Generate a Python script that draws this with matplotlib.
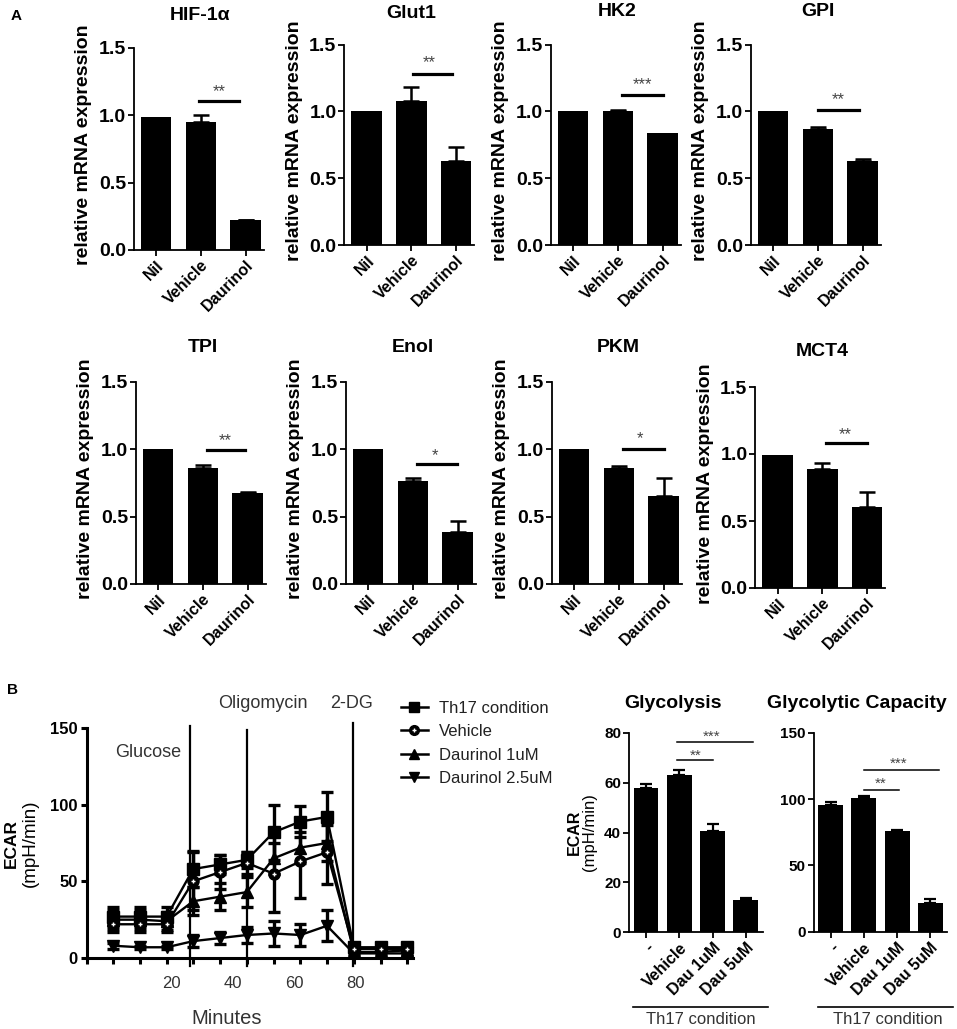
import numpy as np
import matplotlib
matplotlib.use('Agg')
import matplotlib.pyplot as plt
from matplotlib.lines import Line2D
from matplotlib.legend_handler import HandlerTuple

plt.rcParams['font.family'] = ['Liberation Sans', 'DejaVu Sans']

# ---------------- data: panel A ----------------
genes = ["HIF-1α", "Glut1", "HK2", "GPI", "TPI", "Enol", "PKM", "MCT4"]
groups_a = ["Nil", "Vehicle", "Daurinol"]
hif1a = [0.99, 0.95, 0.22]
glut1 = [1.00, 1.08, 0.63]
hk2 = [1.00, 1.00, 0.835]
gpi = [1.00, 0.865, 0.63]
tpi = [1.00, 0.865, 0.675]
enol = [1.00, 0.765, 0.385]
pkm = [1.00, 0.865, 0.655]
mct4 = [0.99, 0.89, 0.605]
hif1a_err = [0.0, 0.055, 0.005]
glut1_err = [0.0, 0.10, 0.10]
hk2_err = [0.0, 0.01, 0.0]
gpi_err = [0.0, 0.015, 0.01]
tpi_err = [0.0, 0.015, 0.008]
enol_err = [0.0, 0.025, 0.08]
pkm_err = [0.0, 0.012, 0.135]
mct4_err = [0.0, 0.04, 0.11]
stars_a = ["**", "**", "***", "**", "**", "*", "*", "**"]

values_a = [hif1a, glut1, hk2, gpi, tpi, enol, pkm, mct4]
errors_a = [hif1a_err, glut1_err, hk2_err, gpi_err, tpi_err, enol_err, pkm_err, mct4_err]

# ---------------- data: panel B line chart ----------------
minutes = [1.2, 9.9, 18.6, 27.2, 35.9, 44.6, 53.3, 62.0, 70.6, 79.3, 88.0, 96.7]
th17 = [27, 27, 27, 58, 61, 64, 82, 89, 92, 7, 7, 7]
th17_err = [6, 6, 6, 12, 6, 5, 18, 10, 16, 3, 2, 2]
vehicle = [22, 22, 22, 50, 56, 62, 55, 63, 69, 6, 6, 6]
vehicle_err = [5, 5, 5, 19, 11, 7, 25, 24, 21, 2, 2, 2]
dau1 = [25, 25, 24, 37, 40, 43, 65, 72, 75, 4, 4, 5]
dau1_err = [6, 6, 6, 9, 9, 10, 10, 10, 12, 2, 2, 2]
dau25 = [8, 7, 7, 11, 13, 15, 16, 15, 21, 3, 3, 3]
dau25_err = [2, 1, 1, 4, 4, 5, 8, 7, 10, 2, 2, 2]
series_names = ["Th17 condition", "Vehicle", "Daurinol 1uM", "Daurinol 2.5uM"]
injections = ["Glucose", "Oligomycin", "2-DG"]
injection_times = [26.2, 44.6, 79.0]

# ---------------- data: panel B bars ----------------
bar_groups = ["-", "Vehicle", "Dau 1uM", "Dau 5uM"]
glycolysis = [58.0, 63.3, 40.8, 12.7]
glycolysis_err = [1.5, 2.0, 2.6, 0.8]
capacity = [95.5, 101.0, 76.0, 21.6]
capacity_err = [2.5, 1.5, 0.8, 3.0]

# ---------------- figure ----------------
W, H = 957, 1029
fig = plt.figure(figsize=(W / 100, H / 100), dpi=100)


def fx(px):
    return px / W


def fy(py):
    return 1 - py / H


def axbox(l, t, r, b):
    return fig.add_axes([l / W, 1 - b / H, (r - l) / W, (b - t) / H])


DARK = '#333333'

# ---------------- panel A ----------------
nil_centers = [156, 366.5, 573, 773, 158, 368, 574, 777.5]
tops = [48, 44.5, 44.5, 44.5, 382, 382, 382, 387]
bottoms = [250, 245, 245, 245, 584, 584, 584, 588]
title_y = [15, 14, 12, 12, 347, 347, 347, 352]
sig_lines = [(0.97, 1.85, 1.11), (1.03, 1.9, 1.28), (1.1, 2.0, 1.125), (1.0, 1.92, 1.01),
             (1.1, 1.95, 0.995), (1.1, 1.99, 0.89), (1.1, 2.0, 1.0), (1.09, 1.99, 1.08)]
star_pos = [(1.41, 1.218), (1.41, 1.40), (1.54, 1.24), (1.46, 1.125),
            (1.5, 1.106), (1.5, 0.995), (1.48, 1.12), (1.51, 1.18)]
s = 44.8
for i in range(8):
    c0 = nil_centers[i]
    l, r = c0 - 0.5 * s, c0 + 2.4 * s
    ax = axbox(l, tops[i], r, bottoms[i])
    x = np.arange(len(groups_a))
    vals = np.array(values_a[i])
    errs = np.array(errors_a[i])
    ax.bar(x, vals, width=0.68, color='black', zorder=2)
    m = errs > 0
    ax.errorbar(x[m], vals[m], yerr=[np.zeros(m.sum()), errs[m]], fmt='none', ecolor='black',
                elinewidth=1.8, capsize=6, capthick=1.8, zorder=3, clip_on=False)
    ax.set_xlim(-0.5, 2.4)
    ax.set_ylim(0, 1.5)
    for sp in ['top', 'right']:
        ax.spines[sp].set_visible(False)
    for sp in ['left', 'bottom']:
        ax.spines[sp].set_linewidth(1.3)
    ax.set_yticks([0, 0.5, 1.0, 1.5])
    ax.set_yticklabels(['0.0', '0.5', '1.0', '1.5'], fontsize=14, fontweight='bold')
    ax.set_xticks(x)
    ax.set_xticklabels(groups_a, fontsize=11.5, fontweight='bold', rotation=45,
                       ha='right', rotation_mode='anchor')
    ax.tick_params(axis='both', length=4, width=1.3, pad=1.5)
    x1, x2, yl = sig_lines[i]
    ax.plot([x1, x2], [yl, yl], color='black', lw=2.3, clip_on=False, zorder=4)
    sx, sy = star_pos[i]
    ax.annotate(stars_a[i], xy=(sx, sy), xytext=(0, -7), textcoords='offset points',
                ha='center', va='baseline', fontsize=12, color='#444444', annotation_clip=False)
    fig.text(fx((l + r) / 2 + 2), fy(title_y[i]), genes[i], fontsize=14, fontweight='bold',
             ha='center', va='center')
    fig.text(fx(l - 50), fy((tops[i] + bottoms[i]) / 2 - 4), 'relative mRNA expression',
             rotation=90, fontsize=14, fontweight='bold', ha='center', va='center')

fig.text(fx(16), fy(16), 'A', fontsize=11, fontweight='bold', ha='center', va='center')
fig.text(fx(12), fy(690), 'B', fontsize=11, fontweight='bold', ha='center', va='center')

# ---------------- panel B line chart ----------------
axl = axbox(87, 728, 413, 958)
axl.set_xlim(-7.25, 98.5)
axl.set_ylim(0, 150)
all_vals = [th17, vehicle, dau1, dau25]
all_errs = [th17_err, vehicle_err, dau1_err, dau25_err]
markers = ['s', 'o', '^', 'v']
for vals, errs, mk in zip(all_vals, all_errs, markers):
    axl.errorbar(minutes, vals, yerr=errs, color='black', marker=mk, ms=8, lw=1.7,
                 elinewidth=2.4, capsize=4, capthick=2.4, clip_on=False, zorder=3)
axl.plot(minutes, vehicle, ls='none', marker='+', color='white', ms=3.2, mew=1.0,
         zorder=5, clip_on=False)
tops_v = [151, 149, 153]
for t, tv in zip(injection_times, tops_v):
    axl.plot([t, t], [-5, tv], color='black', lw=1.6, clip_on=False, zorder=2)
axl.text(12.5, 133.7, injections[0], fontsize=13, color=DARK, ha='center', va='center')
axl.text(49.8, 166, injections[1], fontsize=13, color=DARK, ha='center', va='center',
         clip_on=False)
axl.text(78.5, 166, injections[2], fontsize=13, color=DARK, ha='center', va='center',
         clip_on=False)
for sp in ['top', 'right']:
    axl.spines[sp].set_visible(False)
for sp in ['left', 'bottom']:
    axl.spines[sp].set_linewidth(2.2)
axl.set_yticks([0, 50, 100, 150])
axl.set_yticklabels(['0', '50', '100', '150'], fontsize=12, fontweight='bold')
axl.tick_params(axis='y', length=4.5, width=2.2, pad=2)
axl.set_xticks([20, 40, 60, 80])
axl.set_xticklabels(['20', '40', '60', '80'], fontsize=12, color=DARK)
axl.set_xticks([-7.25] + minutes, minor=True)
axl.tick_params(axis='x', which='major', length=0, pad=13)
axl.tick_params(axis='x', which='minor', length=4.5, width=2.2)
fig.text(fx(227), fy(1018), 'Minutes', fontsize=14.5, color=DARK, ha='center', va='center')
fig.text(fx(11), fy(843), 'ECAR', rotation=90, fontsize=12.5, fontweight='bold',
         ha='center', va='center')
fig.text(fx(30), fy(843), '(mpH/min)', rotation=90, fontsize=13.5, ha='center', va='center')

handles = [
    Line2D([], [], color='black', marker='s', ms=7, lw=1.8),
    (Line2D([], [], color='black', marker='o', ms=7, lw=1.8),
     Line2D([], [], ls='none', marker='+', color='white', ms=3, mew=1.0)),
    Line2D([], [], color='black', marker='^', ms=7, lw=1.8),
    Line2D([], [], color='black', marker='v', ms=7, lw=1.8),
]
leg = fig.legend(handles, series_names, loc='upper left', bbox_to_anchor=(fx(401), fy(701)),
                 frameon=False, fontsize=12, handlelength=1.6, handletextpad=0.7,
                 labelspacing=0.5, borderpad=0, borderaxespad=0,
                 handler_map={tuple: HandlerTuple(ndivide=1)})
for txt in leg.get_texts():
    txt.set_color('#222222')

# ---------------- panel B bars ----------------
def bar_panel(c0, top, bottom, vals, errs, ymax, yticks, title, title_x, sig, stars_xy):
    sb = 33.3
    ax = axbox(c0 - 0.5 * sb, top, c0 + 3.5 * sb, bottom)
    x = np.arange(len(bar_groups))
    ax.bar(x, vals, width=0.75, color='black', zorder=2)
    ax.errorbar(x, vals, yerr=[np.zeros(len(vals)), errs], fmt='none', ecolor='black',
                elinewidth=1.6, capsize=4.5, capthick=1.6, zorder=3)
    ax.set_xlim(-0.5, 3.5)
    ax.set_ylim(0, ymax)
    for sp in ['top', 'right']:
        ax.spines[sp].set_visible(False)
    for sp in ['left', 'bottom']:
        ax.spines[sp].set_linewidth(1.3)
    ax.set_yticks(yticks)
    ax.set_yticklabels([str(v) for v in yticks], fontsize=11, fontweight='bold')
    ax.set_xticks(x)
    ax.set_xticklabels(bar_groups, fontsize=11.5, fontweight='bold', rotation=45,
                       ha='right', rotation_mode='anchor')
    ax.tick_params(axis='both', length=4.5, width=1.3, pad=1.5)
    for (x1, x2, yl), (sx, sy, st) in zip(sig, stars_xy):
        ax.plot([x1, x2], [yl, yl], color='black', lw=1.1, clip_on=False)
        ax.annotate(st, xy=(sx, sy), xytext=(0, -6.5), textcoords='offset points',
                    ha='center', va='baseline', fontsize=11, color='#444444',
                    annotation_clip=False)
    fig.text(fx(title_x), fy(703), title, fontsize=14, fontweight='bold',
             ha='center', va='center')
    return ax


bar_panel(646, 733, 932, glycolysis, glycolysis_err, 80, [0, 20, 40, 60, 80], 'Glycolysis', 673,
          [(0.93, 2.01, 69), (0.93, 3.21, 76.5)],
          [(1.5, 72.9, '**'), (1.97, 80.5, '***')])
bar_panel(830.5, 732.7, 931.7, capacity, capacity_err, 150, [0, 50, 100, 150],
          'Glycolytic Capacity', 857,
          [(1.0, 2.06, 107), (1.0, 3.26, 122)],
          [(1.5, 115, '**'), (2.03, 130, '***')])

fig.text(fx(574), fy(832), 'ECAR', rotation=90, fontsize=11.5, fontweight='bold',
         ha='center', va='center')
fig.text(fx(590), fy(832), '(mpH/min)', rotation=90, fontsize=12, ha='center', va='center')

for (lx1, lx2, tx) in [(633, 768, 701), (818, 953, 887.5)]:
    fig.add_artist(Line2D([fx(lx1), fx(lx2)], [fy(1007), fy(1007)], transform=fig.transFigure,
                          color='black', lw=1.2))
    fig.text(fx(tx), fy(1020), 'Th17 condition', fontsize=12, color=DARK,
             ha='center', va='center')

fig.savefig('out.png', dpi=100)
